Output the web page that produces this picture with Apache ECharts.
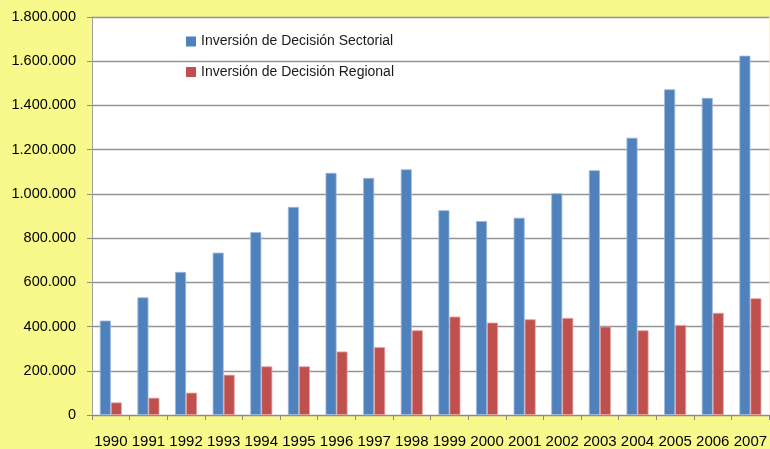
<!DOCTYPE html>
<html>
<head>
<meta charset="utf-8">
<script src="https://cdn.jsdelivr.net/npm/echarts@6/dist/echarts.min.js"></script>
<style>
html,body{margin:0;padding:0;background:#F7F98A;}
#c{width:770px;height:449px;}
</style>
</head>
<body>
<div id="c"></div>
<script>
var years = ['1990','1991','1992','1993','1994','1995','1996','1997','1998','1999','2000','2001','2002','2003','2004','2005','2006','2007'];
var sectorial = [427000,532000,647000,734000,827000,941000,1095000,1072000,1111000,926000,877000,892000,1003000,1107000,1254000,1473000,1434000,1625000];
var regional = [57000,78000,101000,182000,220000,220000,287000,307000,383000,445000,418000,433000,439000,400000,383000,407000,462000,528000];
var seriesNames = ['Inversión de Decisión Sectorial','Inversión de Decisión Regional'];

function fmt(v){
  return String(v).replace(/\B(?=(\d{3})+(?!\d))/g,'.');
}

var chart = echarts.init(document.getElementById('c'));
chart.setOption({
  backgroundColor:'#F7F98A',
  animation:false,
  textStyle:{fontFamily:'Liberation Sans, Arial, sans-serif'},
  legend:{
    orient:'vertical',
    left:186, top:34.5, padding:0,
    itemWidth:10, itemHeight:10, itemGap:16.5,
    icon:'rect',
    itemStyle:{borderWidth:0},
    textStyle:{fontSize:14,color:'#1a1a1a'},
    data:seriesNames
  },
  grid:{left:92, right:-2, top:17, bottom:33, show:true, backgroundColor:'#ffffff', borderWidth:0},
  xAxis:{
    type:'category',
    data:years,
    axisLine:{lineStyle:{color:'#8c8c8c',width:1}},
    axisTick:{show:true,length:5,lineStyle:{color:'#8c8c8c'}},
    axisLabel:{fontSize:15,color:'#000',margin:19,interval:0}
  },
  yAxis:{
    type:'value',
    min:0,max:1800000,interval:200000,
    axisLine:{show:true,lineStyle:{color:'#a0a0a0',width:1}},
    axisTick:{show:true,length:5,lineStyle:{color:'#8c8c8c'}},
    axisLabel:{fontSize:14.5,color:'#000',margin:16,formatter:fmt},
    splitLine:{lineStyle:{color:'#959595',width:1.3}}
  },
  series:[
    {name:seriesNames[0],type:'bar',data:sectorial,barWidth:11,barGap:'0%',
     itemStyle:{color:'#4F81BD',borderColor:'#9ab8de',borderWidth:0.8}},
    {name:seriesNames[1],type:'bar',data:regional,barWidth:11,barGap:'0%',
     itemStyle:{color:'#C0504D',borderColor:'#e3a3a1',borderWidth:0.8}}
  ]
});
</script>
</body>
</html>
